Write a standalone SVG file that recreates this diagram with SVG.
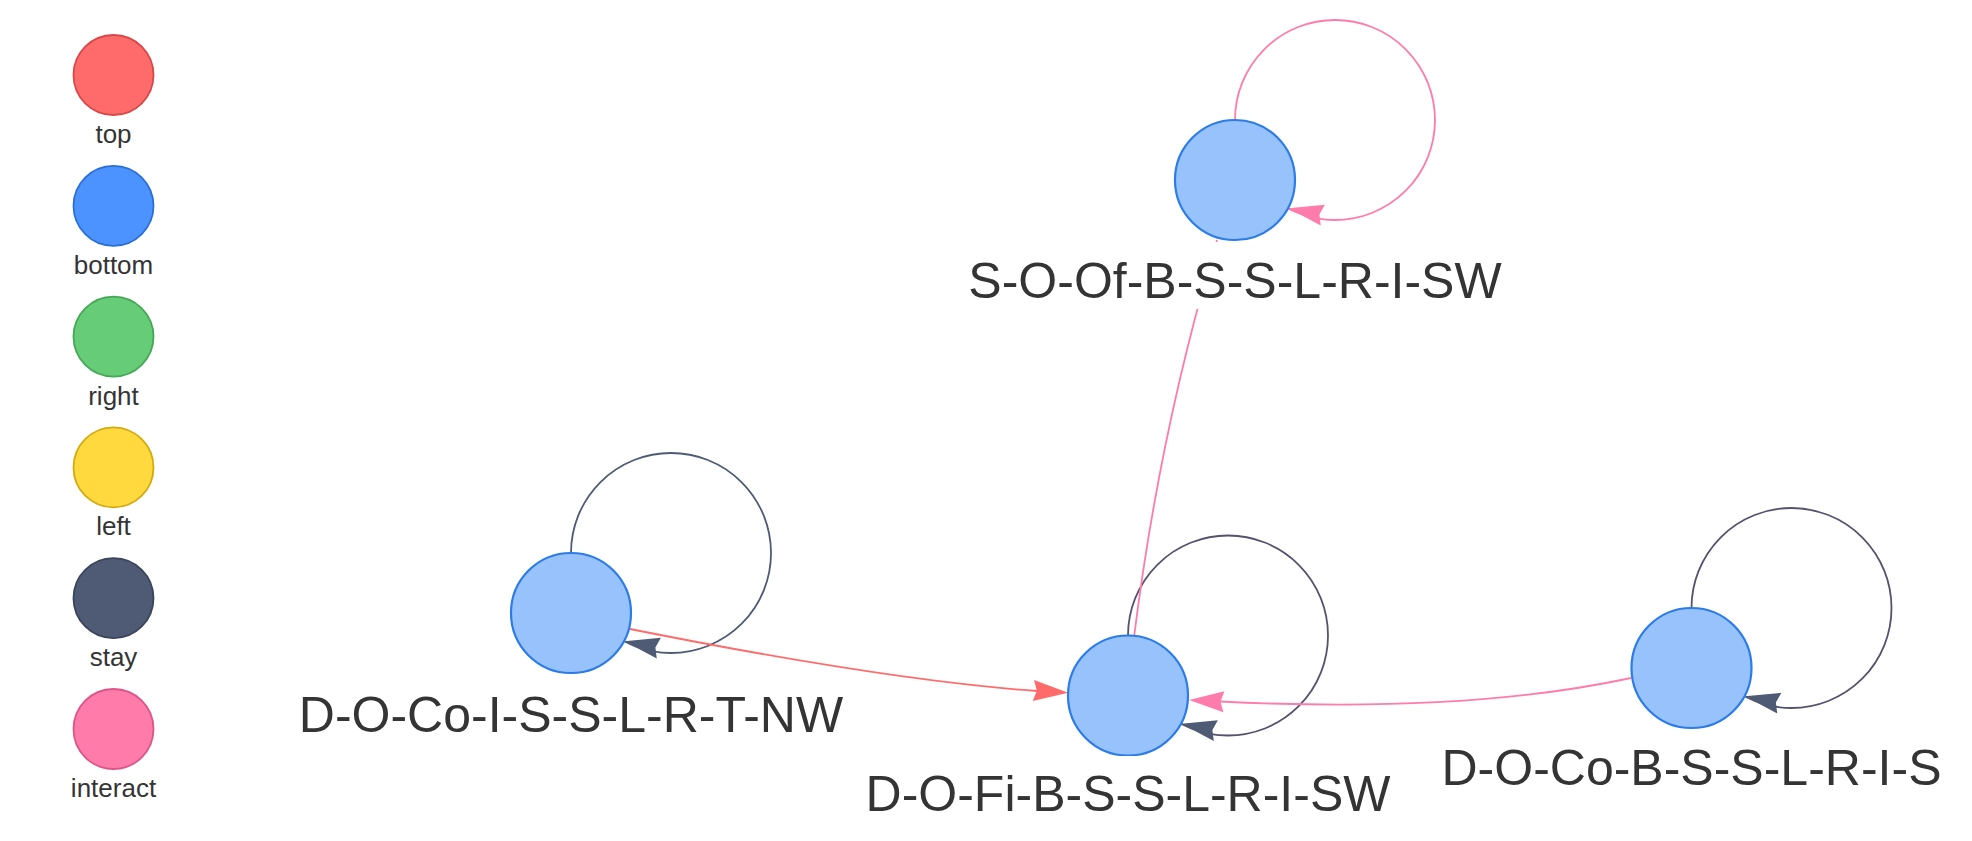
<svg xmlns="http://www.w3.org/2000/svg" width="1972" height="841" viewBox="0 0 1972 841">
<style>
.lg{stroke-width:1.8}
.lgt{font-family:"Liberation Sans",Arial,sans-serif;font-size:26px;fill:#343434;text-anchor:middle}
.node{fill:#97C2FC;stroke:#2B7CE9;stroke-width:2.2}
.lbl{font-family:"Liberation Sans",Arial,sans-serif;font-size:50px;fill:#343434;text-anchor:middle}
.lbg{fill:#ffffff}
.e{fill:none;stroke-width:1.8}
.stay{stroke:#4F5B75}
.stay2{stroke:#56526E}
.inter{stroke:#FF7BAA}
.topc{stroke:#FF6B6B}
.ah-stay{fill:#4F5B75}
.ah-inter{fill:#FF7BAA}
.ah-top{fill:#FF6B6B}
</style>
<defs>
<path id="ah" d="M0,0 L-35,-10.5 L-31.5,0 L-35,10.5 Z"/>
</defs>
<rect width="1972" height="841" fill="#ffffff"/>
<g id="legend">
<g id="legend-top"><circle class="lg" cx="113.5" cy="75" r="40" fill="#FF6B6B" stroke="#D94848"/><text class="lgt" x="113.5" y="143">top</text></g>
<g id="legend-bottom"><circle class="lg" cx="113.5" cy="205.8" r="40" fill="#4C93FF" stroke="#2A6FD8"/><text class="lgt" x="113.5" y="273.8">bottom</text></g>
<g id="legend-right"><circle class="lg" cx="113.5" cy="336.6" r="40" fill="#66CC77" stroke="#45A857"/><text class="lgt" x="113.5" y="404.6">right</text></g>
<g id="legend-left"><circle class="lg" cx="113.5" cy="467.4" r="40" fill="#FFD93D" stroke="#D4AA10"/><text class="lgt" x="113.5" y="535.4">left</text></g>
<g id="legend-stay"><circle class="lg" cx="113.5" cy="598.2" r="40" fill="#4F5B75" stroke="#3A445A"/><text class="lgt" x="113.5" y="666.2">stay</text></g>
<g id="legend-interact"><circle class="lg" cx="113.5" cy="729" r="40" fill="#FF7BAA" stroke="#DC5589"/><text class="lgt" x="113.5" y="797">interact</text></g>
</g>
<g id="connectors">
<circle class="e inter" cx="1335" cy="120" r="100"/>
<use href="#ah" class="ah-inter" transform="translate(1288.5,208.3) rotate(191.3)"/>
<circle class="e stay" cx="671" cy="553" r="100"/>
<use href="#ah" class="ah-stay" transform="translate(624.5,641.3) rotate(191.3)"/>
<circle class="e stay2" cx="1228" cy="635.5" r="100"/>
<use href="#ah" class="ah-stay" transform="translate(1181.5,723.8) rotate(191.3)"/>
<circle class="e stay2" cx="1791.5" cy="608" r="100"/>
<use href="#ah" class="ah-stay" transform="translate(1745,696.3) rotate(191.3)"/>
<path class="e topc" d="M630,629 Q888,680.5 1037,691"/>
<use href="#ah" class="ah-top" transform="translate(1068.3,692.7) rotate(3.6)"/>
<path class="e inter" d="M1631,678 Q1465,713.7 1220,701.5"/>
<use href="#ah" class="ah-inter" transform="translate(1189,700) rotate(-177.1)"/>
<path class="e inter" d="M1134.3,635 Q1160,430 1217,240"/>
</g>
<g id="node-S-O-Of-B-S-S-L-R-I-SW">
<circle class="node" cx="1235" cy="180" r="60"/>
<rect class="lbg" x="968" y="242" width="534" height="67"/>
<text class="lbl" x="1235" y="298">S-O-Of-B-S-S-L-R-I-SW</text>
</g>
<g id="node-D-O-Co-I-S-S-L-R-T-NW">
<circle class="node" cx="571" cy="613" r="60"/>
<rect class="lbg" x="297" y="676" width="548" height="67"/>
<text class="lbl" x="571" y="732">D-O-Co-I-S-S-L-R-T-NW</text>
</g>
<g id="node-D-O-Fi-B-S-S-L-R-I-SW">
<circle class="node" cx="1128" cy="695.5" r="60"/>
<rect class="lbg" x="865" y="756" width="526" height="67"/>
<text class="lbl" x="1128" y="811">D-O-Fi-B-S-S-L-R-I-SW</text>
</g>
<g id="node-D-O-Co-B-S-S-L-R-I-S">
<circle class="node" cx="1691.5" cy="668" r="60"/>
<rect class="lbg" x="1441" y="729" width="501" height="67"/>
<text class="lbl" x="1691.5" y="784.5">D-O-Co-B-S-S-L-R-I-S</text>
</g>
</svg>
